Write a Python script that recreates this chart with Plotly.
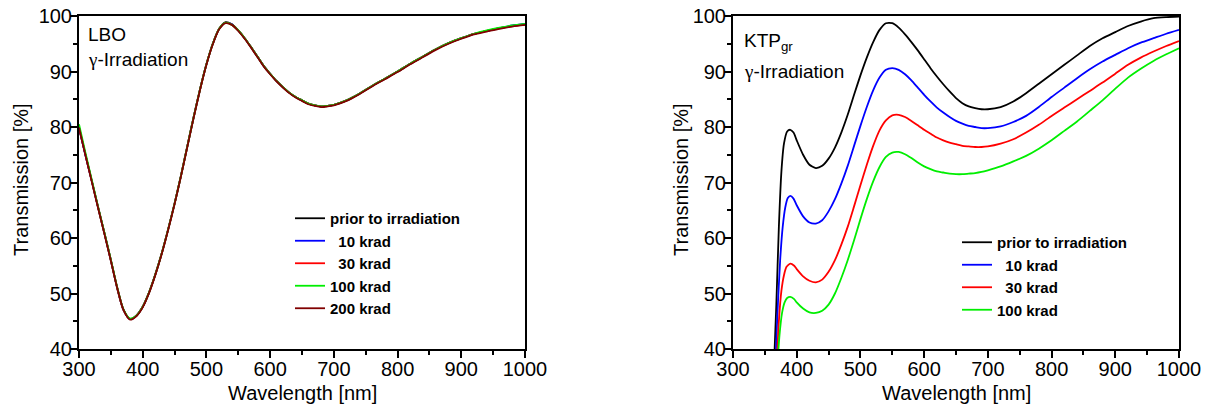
import plotly.graph_objects as go

# ---------------- LBO data ----------------
lbo_wavelength = [300, 310, 320, 330, 340, 350, 360, 370, 380, 390, 400, 410, 420, 430, 440, 450,
                  460, 470, 480, 490, 500, 510, 520, 530, 540, 550, 560, 570, 580, 590, 600, 610,
                  620, 630, 640, 650, 660, 670, 680, 690, 700, 720, 740, 760, 780, 800, 820, 840,
                  860, 880, 900, 920, 940, 960, 980, 1000]
lbo_prior = [79.8, 75.0, 70.3, 65.5, 60.8, 56.0, 51.0, 47.0, 45.4, 46.0, 47.6, 50.2, 53.5, 57.3, 61.6, 66.2,
             71.2, 76.5, 81.8, 86.8, 91.3, 95.0, 97.7, 98.9, 98.5, 97.4, 96.0, 94.4, 92.7, 91.0, 89.6, 88.3,
             87.2, 86.2, 85.4, 84.8, 84.2, 83.9, 83.7, 83.8, 84.0, 84.8, 86.0, 87.4, 88.7, 90.0, 91.4, 92.7,
             94.0, 95.1, 96.0, 96.8, 97.3, 97.8, 98.2, 98.5]
lbo_10krad = [79.9, 75.0, 70.3, 65.5, 60.8, 56.0, 51.0, 47.0, 45.4, 46.0, 47.6, 50.2, 53.5, 57.3, 61.6, 66.2,
              71.2, 76.5, 81.8, 86.8, 91.3, 95.0, 97.7, 98.8, 98.5, 97.4, 96.0, 94.4, 92.7, 91.0, 89.6, 88.3,
              87.2, 86.2, 85.4, 84.8, 84.2, 83.9, 83.7, 83.8, 84.0, 84.8, 86.0, 87.4, 88.7, 90.0, 91.4, 92.7,
              94.0, 95.1, 96.0, 96.8, 97.3, 97.8, 98.3, 98.6]
lbo_30krad = [80.0, 75.1, 70.3, 65.5, 60.8, 56.0, 51.0, 47.0, 45.4, 46.0, 47.6, 50.2, 53.5, 57.3, 61.6, 66.2,
              71.2, 76.5, 81.8, 86.8, 91.3, 95.0, 97.7, 98.8, 98.4, 97.4, 96.0, 94.4, 92.7, 91.0, 89.6, 88.3,
              87.2, 86.2, 85.4, 84.8, 84.2, 83.9, 83.7, 83.8, 84.0, 84.8, 86.0, 87.4, 88.7, 90.0, 91.4, 92.7,
              94.0, 95.1, 96.0, 96.8, 97.3, 97.8, 98.2, 98.4]
lbo_100krad = [80.5, 75.4, 70.5, 65.6, 60.9, 56.1, 51.1, 47.1, 45.5, 46.0, 47.6, 50.2, 53.5, 57.3, 61.6, 66.2,
               71.2, 76.5, 81.8, 86.8, 91.3, 95.0, 97.7, 98.8, 98.4, 97.4, 96.0, 94.4, 92.7, 91.0, 89.6, 88.3,
               87.2, 86.2, 85.4, 84.8, 84.2, 83.9, 83.7, 83.8, 84.0, 84.8, 86.0, 87.4, 88.7, 90.0, 91.4, 92.7,
               94.0, 95.1, 96.0, 96.8, 97.4, 97.9, 98.3, 98.6]
lbo_200krad = [79.9, 75.0, 70.2, 65.4, 60.7, 55.9, 51.0, 47.0, 45.3, 45.9, 47.5, 50.1, 53.4, 57.2, 61.5, 66.1,
               71.1, 76.4, 81.7, 86.7, 91.2, 94.9, 97.6, 98.7, 98.4, 97.3, 95.9, 94.3, 92.6, 90.9, 89.5, 88.2,
               87.1, 86.1, 85.3, 84.7, 84.1, 83.8, 83.6, 83.7, 83.9, 84.7, 85.9, 87.3, 88.6, 89.9, 91.3, 92.6,
               93.9, 95.0, 95.9, 96.7, 97.2, 97.7, 98.1, 98.4]

# ---------------- KTPgr data ----------------
ktp_common_wl = [440, 450, 460, 470, 480, 490, 500, 510, 520, 530, 540, 550, 560, 570, 580, 590, 600,
                 610, 620, 630, 640, 650, 660, 670, 680, 690, 700, 720, 740, 760, 780, 800, 820, 840,
                 860, 880, 900, 920, 940, 960, 980, 1000]

ktp_prior_wl_uv = [364, 368, 372, 376, 380, 385, 390, 395, 400, 410, 420, 430]
ktp_prior = [36, 48, 62, 72, 77, 79.2, 79.5, 79.0, 77.6, 75.0, 73.2, 72.6,
             73.0, 74.3, 76.3, 79.0, 82.2, 85.8, 89.3, 92.5, 95.3, 97.5, 98.7, 98.7, 97.9, 96.7, 95.3, 93.8,
             92.2, 90.6, 89.1, 87.7, 86.4, 85.2, 84.3, 83.7, 83.4, 83.2, 83.2,
             83.6, 84.6, 86.1, 87.8, 89.5, 91.2, 92.9, 94.6, 96.0, 97.1, 98.2, 99.0, 99.6, 99.8, 99.9]

ktp_10_wl_uv = [366, 370, 374, 378, 382, 386, 390, 395, 400, 410, 420, 430]
ktp_10krad = [36, 47, 56, 62, 65.5, 67.2, 67.6, 67.1, 65.9, 63.9, 62.8, 62.6,
              63.2, 64.8, 67.0, 69.8, 73.0, 76.6, 80.2, 83.6, 86.6, 88.9, 90.3, 90.6, 90.3, 89.5, 88.4, 87.1,
              85.8, 84.6, 83.5, 82.6, 81.8, 81.1, 80.6, 80.2, 80.0, 79.8, 79.8,
              80.1, 80.9, 82.0, 83.6, 85.4, 87.1, 88.8, 90.4, 91.8, 93.0, 94.2, 95.2, 96.0, 96.8, 97.5]

ktp_30_wl_uv = [368, 372, 376, 380, 384, 390, 396, 400, 410, 420, 430]
ktp_30krad = [36, 45, 50.5, 53.3, 54.8, 55.4, 55.0, 54.4, 53.1, 52.3, 52.0,
              52.5, 53.9, 56.0, 58.8, 62.0, 65.7, 69.5, 73.2, 76.6, 79.4, 81.2, 82.1, 82.2, 81.8, 81.1, 80.3,
              79.5, 78.8, 78.1, 77.6, 77.2, 76.9, 76.6, 76.5, 76.4, 76.4, 76.5,
              77.0, 77.8, 79.0, 80.4, 82.0, 83.5, 85.0, 86.5, 88.0, 89.6, 91.2, 92.5, 93.6, 94.6, 95.5]

ktp_100_wl_uv = [369, 373, 377, 381, 385, 390, 396, 400, 410, 420, 430]
ktp_100krad = [36, 42.5, 46.5, 48.4, 49.2, 49.4, 49.0, 48.4, 47.3, 46.6, 46.5,
               46.9, 48.0, 50.0, 52.8, 56.0, 59.6, 63.4, 67.0, 70.2, 72.8, 74.6, 75.4, 75.5, 75.1, 74.4, 73.6,
               72.9, 72.4, 72.0, 71.8, 71.6, 71.5, 71.5, 71.6, 71.7, 71.9, 72.2,
               72.9, 73.8, 74.8, 76.1, 77.6, 79.3, 81.0, 82.9, 84.8, 86.9, 88.9, 90.5, 91.9, 93.1, 94.2]

lbo_labels = ["prior to irradiation", "\u00a0\u00a010 krad", "\u00a0\u00a030 krad", "100 krad", "200 krad"]
ktp_labels = ["prior to irradiation", "\u00a0\u00a010 krad", "\u00a0\u00a030 krad", "100 krad"]
colors = ["#000000", "#0000ff", "#ff0000", "#00ee00", "#800000"]

x_ticks = [300, 400, 500, 600, 700, 800, 900, 1000]
y_ticks = [40, 50, 60, 70, 80, 90, 100]

FONT = "Liberation Sans, Arial, sans-serif"
W, H = 1208, 410

fig = go.Figure()

lbo_series = [lbo_prior, lbo_10krad, lbo_30krad, lbo_100krad, lbo_200krad]
for name, ys, c in zip(lbo_labels, lbo_series, colors):
    fig.add_trace(go.Scatter(x=lbo_wavelength, y=ys, mode="lines", name=name,
                             line=dict(color=c, width=1.8, shape="spline", smoothing=0.8),
                             xaxis="x", yaxis="y", legend="legend"))

ktp_series = [(ktp_prior_wl_uv, ktp_prior), (ktp_10_wl_uv, ktp_10krad),
              (ktp_30_wl_uv, ktp_30krad), (ktp_100_wl_uv, ktp_100krad)]
for name, (wl_uv, ys), c in zip(ktp_labels, ktp_series, colors):
    fig.add_trace(go.Scatter(x=wl_uv + ktp_common_wl, y=ys, mode="lines", name=name,
                             line=dict(color=c, width=1.8, shape="spline", smoothing=0.6),
                             xaxis="x2", yaxis="y2", legend="legend2"))


def px_x(p):
    return p / W


def px_y(p):
    return 1 - p / H


axis_common = dict(showline=True, linecolor="black", linewidth=2, mirror=True,
                   ticks="outside", ticklen=7, tickwidth=1.5, tickcolor="black",
                   showgrid=False, zeroline=False, automargin=False, ticklabelstandoff=-6,
                   ticklabeloverflow="allow",
                   tickfont=dict(family=FONT, size=20, color="black"))

xa = dict(axis_common, range=[300, 1000], tickvals=x_ticks,
          minor=dict(ticks="outside", ticklen=4, tickwidth=1.5, dtick=50, tickcolor="black", showgrid=False))
ya = dict(axis_common, range=[40, 100], tickvals=y_ticks,
          minor=dict(ticks="outside", ticklen=4, tickwidth=1.5, dtick=5, tickcolor="black", showgrid=False))

fig.update_layout(
    template="none",
    width=W, height=H,
    margin=dict(l=0, r=0, t=0, b=0, autoexpand=False),
    paper_bgcolor="white", plot_bgcolor="white",
    font=dict(family=FONT, color="black"),
    xaxis=dict(xa, domain=[px_x(79), px_x(525)], anchor="y"),
    yaxis=dict(ya, domain=[px_y(349), px_y(16)], anchor="x"),
    xaxis2=dict(xa, domain=[px_x(733), px_x(1179)], anchor="y2"),
    yaxis2=dict(ya, domain=[px_y(349), px_y(16)], anchor="x2"),
    legend=dict(x=px_x(290), y=px_y(202), xanchor="left", yanchor="top",
                bgcolor="rgba(0,0,0,0)", borderwidth=0,
                font=dict(family=FONT, size=15, color="black", weight="bold")),
    legend2=dict(x=px_x(957), y=px_y(226), xanchor="left", yanchor="top",
                 bgcolor="rgba(0,0,0,0)", borderwidth=0,
                 font=dict(family=FONT, size=15, color="black", weight="bold")),
    showlegend=True,
)

ann = []
title_font = dict(family=FONT, size=20, color="black")
ann.append(dict(text="Wavelength [nm]", x=px_x(302), y=px_y(393), xref="paper", yref="paper",
                showarrow=False, font=title_font, xanchor="center", yanchor="middle"))
ann.append(dict(text="Wavelength [nm]", x=px_x(956), y=px_y(393), xref="paper", yref="paper",
                showarrow=False, font=title_font, xanchor="center", yanchor="middle"))
ann.append(dict(text="Transmission [%]", x=px_x(21), y=px_y(180), xref="paper", yref="paper",
                showarrow=False, font=title_font, textangle=-90, xanchor="center", yanchor="middle"))
ann.append(dict(text="Transmission [%]", x=px_x(681), y=px_y(180), xref="paper", yref="paper",
                showarrow=False, font=title_font, textangle=-90, xanchor="center", yanchor="middle"))
lab_font = dict(family=FONT, size=19, color="black")
gamma = "<span style='font-family:Liberation Serif'>\u03b3</span>-Irradiation"
ann.append(dict(text="LBO", x=px_x(86), y=px_y(35), xref="paper", yref="paper",
                showarrow=False, font=lab_font, xanchor="left", yanchor="middle"))
ann.append(dict(text=gamma, x=px_x(86), y=px_y(59), xref="paper", yref="paper",
                showarrow=False, font=lab_font, xanchor="left", yanchor="middle"))
ann.append(dict(text="KTP<sub>gr</sub>", x=px_x(742), y=px_y(42), xref="paper", yref="paper",
                showarrow=False, font=lab_font, xanchor="left", yanchor="middle"))
ann.append(dict(text=gamma, x=px_x(742), y=px_y(72), xref="paper", yref="paper",
                showarrow=False, font=lab_font, xanchor="left", yanchor="middle"))
fig.update_layout(annotations=ann)

fig.write_html("out.html", config={"displayModeBar": False},
               post_script="document.body.style.margin='0px';document.body.style.overflow='hidden';")
